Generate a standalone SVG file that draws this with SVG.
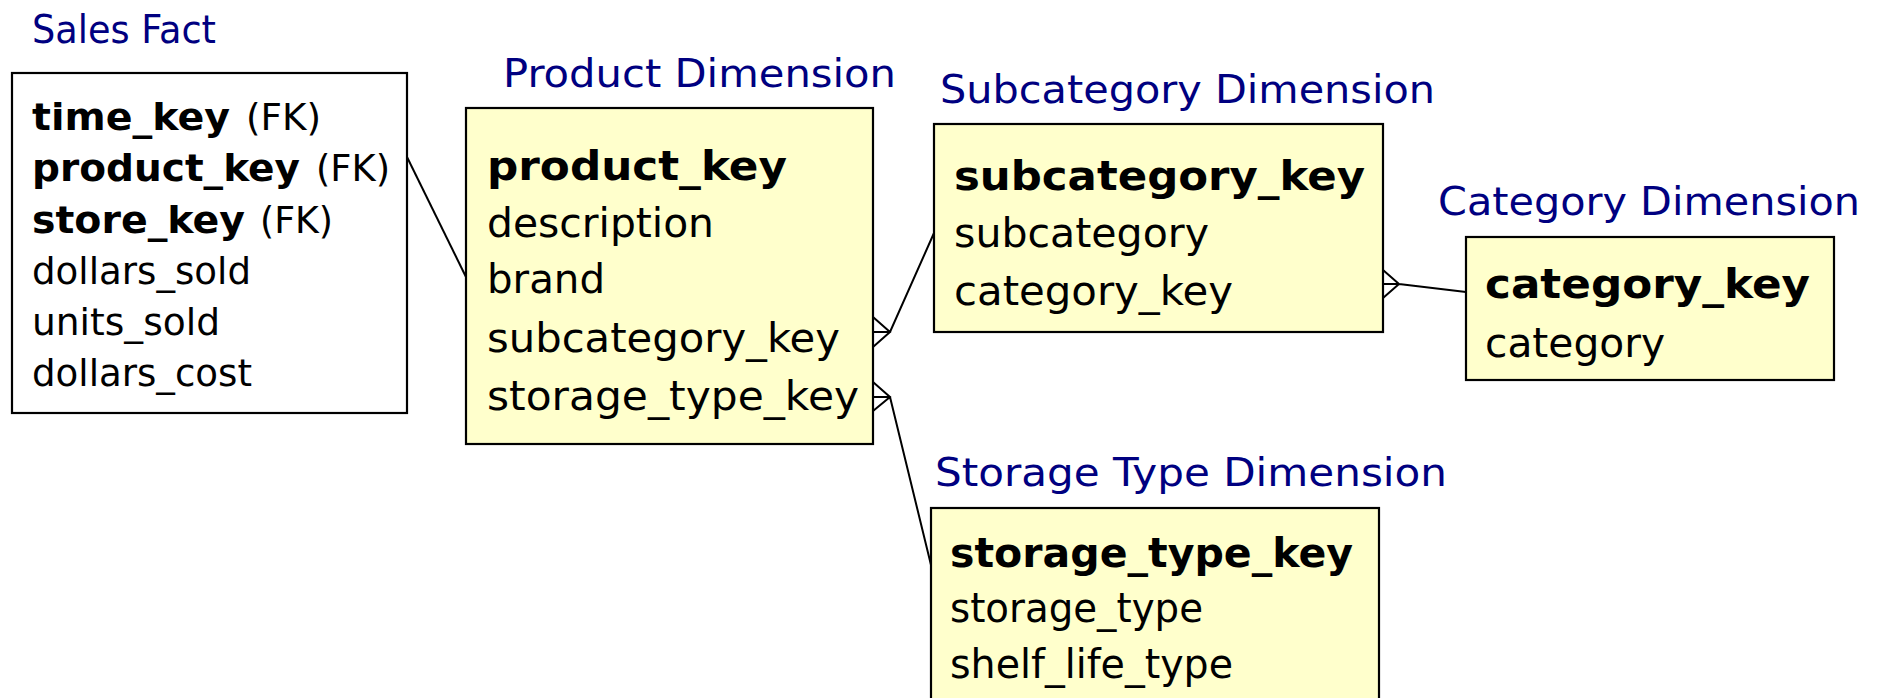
<svg xmlns="http://www.w3.org/2000/svg" width="1883" height="698" viewBox="0 0 1883 698">
<style>
.title{font-family:"DejaVu Sans","Liberation Sans",sans-serif;font-size:39px;fill:#000080}
.t{font-family:"DejaVu Sans","Liberation Sans",sans-serif;font-size:38px;fill:#000}
.b{font-weight:bold}
.box{fill:#FFFFCC;stroke:#000;stroke-width:2.2}
.wbox{fill:#fff;stroke:#000;stroke-width:2.2}
.ln{stroke:#000;stroke-width:2;fill:none}
</style>
<rect width="1883" height="698" fill="#fff"/>
<g id="connectors">
<line class="ln" x1="407" y1="157" x2="466" y2="277"/>
<path class="ln" d="M873 317 L890 332 L873 347 M873 332 L890 332 L934 233"/>
<path class="ln" d="M873 382 L890 397 L873 411 M873 397 L890 397 L931 565"/>
<path class="ln" d="M1383 270 L1399 284 L1383 298 M1383 284 L1399 284 L1466 292"/>
</g>
<g id="sales-fact">
<text class="title" x="32" y="43" textLength="184" lengthAdjust="spacingAndGlyphs">Sales Fact</text>
<rect class="wbox" x="12" y="73" width="395" height="340"/>
<text class="t b" x="32" y="130" textLength="198" lengthAdjust="spacingAndGlyphs">time_key</text>
<text class="t" x="246" y="130" textLength="75" lengthAdjust="spacingAndGlyphs">(FK)</text>
<text class="t b" x="32" y="181" textLength="268" lengthAdjust="spacingAndGlyphs">product_key</text>
<text class="t" x="316" y="181" textLength="74" lengthAdjust="spacingAndGlyphs">(FK)</text>
<text class="t b" x="32" y="233" textLength="213" lengthAdjust="spacingAndGlyphs">store_key</text>
<text class="t" x="260" y="233" textLength="73" lengthAdjust="spacingAndGlyphs">(FK)</text>
<text class="t" x="32" y="284" textLength="219" lengthAdjust="spacingAndGlyphs">dollars_sold</text>
<text class="t" x="32" y="335" textLength="188" lengthAdjust="spacingAndGlyphs">units_sold</text>
<text class="t" x="32" y="386" textLength="220" lengthAdjust="spacingAndGlyphs">dollars_cost</text>
</g>
<g id="product-dimension">
<text class="title" x="503" y="87" textLength="393" lengthAdjust="spacingAndGlyphs">Product Dimension</text>
<rect class="box" x="466" y="108" width="407" height="336"/>
<text class="t b" x="487" y="180" style="font-size:40px" textLength="300" lengthAdjust="spacingAndGlyphs">product_key</text>
<text class="t" x="487" y="237" style="font-size:40px" textLength="227" lengthAdjust="spacingAndGlyphs">description</text>
<text class="t" x="487" y="293" style="font-size:40px" textLength="118" lengthAdjust="spacingAndGlyphs">brand</text>
<text class="t" x="487" y="352" style="font-size:40px" textLength="353" lengthAdjust="spacingAndGlyphs">subcategory_key</text>
<text class="t" x="487" y="410" style="font-size:40px" textLength="372" lengthAdjust="spacingAndGlyphs">storage_type_key</text>
</g>
<g id="subcategory-dimension">
<text class="title" x="940" y="103" textLength="495" lengthAdjust="spacingAndGlyphs">Subcategory Dimension</text>
<rect class="box" x="934" y="124" width="449" height="208"/>
<text class="t b" x="954" y="190" style="font-size:40px" textLength="411" lengthAdjust="spacingAndGlyphs">subcategory_key</text>
<text class="t" x="954" y="247" style="font-size:40px" textLength="255" lengthAdjust="spacingAndGlyphs">subcategory</text>
<text class="t" x="954" y="305" style="font-size:40px" textLength="279" lengthAdjust="spacingAndGlyphs">category_key</text>
</g>
<g id="category-dimension">
<text class="title" x="1438" y="215" textLength="422" lengthAdjust="spacingAndGlyphs">Category Dimension</text>
<rect class="box" x="1466" y="237" width="368" height="143"/>
<text class="t b" x="1485" y="298" style="font-size:40px" textLength="325" lengthAdjust="spacingAndGlyphs">category_key</text>
<text class="t" x="1485" y="357" style="font-size:40px" textLength="180" lengthAdjust="spacingAndGlyphs">category</text>
</g>
<g id="storage-type-dimension">
<text class="title" x="935" y="486" textLength="512" lengthAdjust="spacingAndGlyphs">Storage Type Dimension</text>
<rect class="box" x="931" y="508" width="448" height="210"/>
<text class="t b" x="950" y="567" style="font-size:40px" textLength="403" lengthAdjust="spacingAndGlyphs">storage_type_key</text>
<text class="t" x="950" y="622" style="font-size:40px" textLength="253" lengthAdjust="spacingAndGlyphs">storage_type</text>
<text class="t" x="950" y="678" style="font-size:40px" textLength="283" lengthAdjust="spacingAndGlyphs">shelf_life_type</text>
</g>
</svg>
